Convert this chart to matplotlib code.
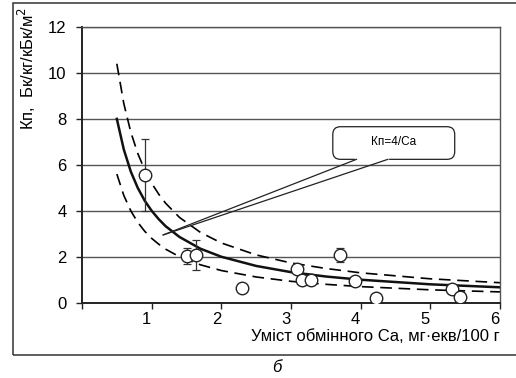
import numpy as np
import matplotlib.pyplot as plt
from matplotlib.patches import FancyBboxPatch, Rectangle
from matplotlib.transforms import ScaledTranslation

plt.rcParams['font.family'] = ['Liberation Sans', 'DejaVu Sans']

# Виміряні точки (Ca, Кп) та похибки
ca_points = [0.90, 1.50, 1.63, 2.29, 3.08, 3.16, 3.28, 3.71, 3.92, 4.22, 5.31, 5.43]
kp_points = [5.56, 2.03, 2.08, 0.63, 1.47, 0.99, 0.99, 2.08, 0.94, 0.19, 0.60, 0.24]
kp_err = [1.55, 0.33, 0.66, 0.0, 0.0, 0.0, 0.0, 0.30, 0.0, 0.0, 0.0, 0.0]

# Крива Кп=4/Ca та межі
curve_x = [0.5, 0.6, 0.7, 0.8, 0.9, 1.0, 1.1, 1.2, 1.4, 1.7, 2.0, 2.5, 3.0, 3.5, 4.0, 5.0, 6.0]
curve_mid = [8.0, 6.67, 5.71, 5.0, 4.44, 4.0, 3.64, 3.33, 2.86, 2.35, 2.0, 1.6, 1.33, 1.14, 1.0, 0.8, 0.67]
curve_up = [10.4, 8.67, 7.43, 6.5, 5.78, 5.2, 4.73, 4.33, 3.71, 3.06, 2.6, 2.08, 1.73, 1.49, 1.3, 1.04, 0.87]
curve_low = [5.6, 4.67, 4.0, 3.5, 3.11, 2.8, 2.55, 2.33, 2.0, 1.65, 1.4, 1.12, 0.93, 0.8, 0.7, 0.56, 0.47]

x_ticks = [0, 1, 2, 3, 4, 5, 6]
x_labels = ['', '1', '2', '3', '4', '5', '6']
y_ticks = [0, 2, 4, 6, 8, 10, 12]

fig = plt.figure(figsize=(5.16, 3.78), dpi=100)
ax = fig.add_axes([82 / 516, 1 - 302.7 / 378, 418 / 516, 275.7 / 378])

ax.set_xlim(0, 6)
ax.set_ylim(0, 12)
ax.set_yticks(y_ticks)
ax.set_xticks(x_ticks)
ax.set_xticklabels(x_labels)
ax.yaxis.grid(True, color='#555555', linewidth=1.0)
ax.set_axisbelow(True)
ax.tick_params(direction='out', length=4, width=1.0, color='#222222', labelsize=12)
ax.tick_params(axis='y', pad=7)
ax.tick_params(axis='x', pad=2.5)
for lab in ax.get_xticklabels():
    lab.set_transform(lab.get_transform() + ScaledTranslation(-0.05, 0, fig.dpi_scale_trans))

for s in ['left', 'bottom']:
    ax.spines[s].set_linewidth(1.4)
    ax.spines[s].set_color('#222222')
ax.spines['right'].set_color('#555555')
ax.spines['top'].set_color('#555555')
ax.spines['right'].set_linewidth(1.0)
ax.spines['top'].set_linewidth(1.0)

ax.plot(curve_x, curve_up, color='black', linewidth=1.2, linestyle=(0, (7, 4)))
ax.plot(curve_x, curve_low, color='black', linewidth=1.2, linestyle=(0, (7, 4)))
ax.plot(curve_x, curve_mid, color='#111111', linewidth=1.8)

ax.errorbar(ca_points, kp_points, yerr=kp_err, fmt='none', ecolor='#333333',
            elinewidth=0.9, capsize=3, capthick=0.9, zorder=4)
ax.plot(ca_points, kp_points, 'o', markersize=9, markerfacecolor='white',
        markeredgecolor='#222222', markeredgewidth=1.0, zorder=5)

# Виноска з формулою
box_x0, box_x1, box_y0, box_y1 = 3.60, 5.35, 6.24, 7.66
tip = (1.166, 2.95)
base1, base2 = 3.94, 4.39
box = FancyBboxPatch((box_x0, box_y0), box_x1 - box_x0, box_y1 - box_y0,
                     boxstyle='round,pad=0,rounding_size=0.11', mutation_aspect=3.03,
                     facecolor='white', edgecolor='#222222', linewidth=0.9, zorder=6)
ax.add_patch(box)
ax.plot([base1, base2], [box_y0, box_y0], color='white', linewidth=1.6, zorder=7)
ax.plot([tip[0], base1], [tip[1], box_y0], color='#222222', linewidth=0.9, zorder=7)
ax.plot([tip[0], base2], [tip[1], box_y0], color='#222222', linewidth=0.9, zorder=7)
ax.text((box_x0 + box_x1) / 2, (box_y0 + box_y1) / 2 + 0.05, 'Кп=4/Ca', ha='center', va='center',
        fontsize=8.5, zorder=8)

fig.text(500 / 516, 1 - 341 / 378, 'Уміст обмінного Ca, мг·екв/100 г', ha='right',
         va='baseline', fontsize=12)
fig.text(27 / 516, 1 - 68 / 378, 'Кп,  Бк/кг/кБк/м$^2$', rotation=90, ha='center',
         va='center', fontsize=12)
fig.text(277 / 516, 1 - 368 / 378, 'б', ha='center', va='center', fontsize=12, style='italic')

frame = Rectangle((13 / 516, 1 - 355 / 378), 1.2, (355 - 3) / 378, transform=fig.transFigure,
                  fill=False, edgecolor='#333333', linewidth=1.1, clip_on=False)
fig.patches.append(frame)

fig.savefig('out.png', dpi=100)
